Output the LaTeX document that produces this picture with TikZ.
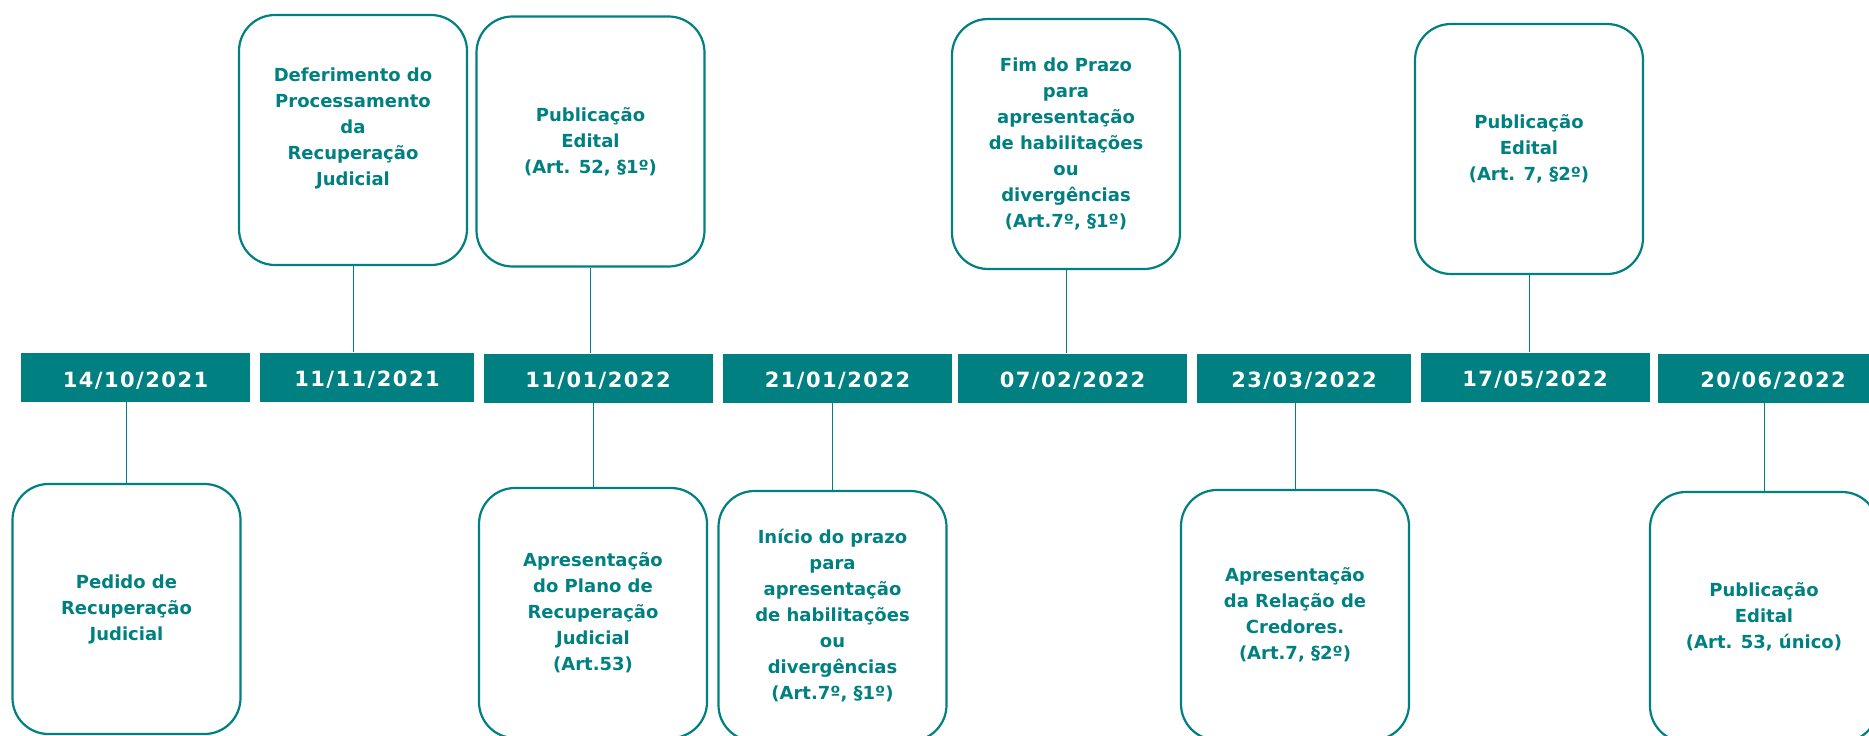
\documentclass[tikz,border=0pt]{standalone}
\usepackage{fontspec}
\setmainfont{DejaVu Sans}
\newfontfamily\datefont[LetterSpace=7]{DejaVu Sans}
\usepackage{xcolor}
\usepackage{tikz}
\definecolor{tealgreen}{HTML}{008080}
\tikzstyle{datebox} = [rectangle, minimum width=229pt, minimum height=49pt, inner sep=0pt, text height=19pt, text depth=0pt, text centered, fill=tealgreen, text=white, font=\datefont\bfseries\fontsize{21}{25}\selectfont]
\tikzstyle{event} = [rectangle, rounded corners=36pt, minimum width=228pt, minimum height=250pt, inner sep=0pt, align=center, draw=tealgreen, line width=2.2pt, text=tealgreen, font=\bfseries\fontsize{18}{26}\selectfont]
\tikzstyle{link} = [tealgreen, line width=1pt]

\begin{document}
\begin{tikzpicture}[x=1pt, y=-1pt]
\useasboundingbox (0,0) rectangle (1869,736);

% dates
\node (d1) [datebox] at (135.5,377.5) {14/10/2021};
\node (d2) [datebox, minimum width=214pt] at (367,377) {11/11/2021};
\node (d3) [datebox] at (598,378) {11/01/2022};
\node (d4) [datebox] at (837.5,378) {21/01/2022};
\node (d5) [datebox] at (1072.5,378) {07/02/2022};
\node (d6) [datebox, minimum width=214pt] at (1304,378) {23/03/2022};
\node (d7) [datebox] at (1535,377) {17/05/2022};
\node (d8) [datebox, minimum width=230pt] at (1773,378) {20/06/2022};

% events above
\node (up1) [event] at (353,140) {Deferimento do\\Processamento\\da\\Recuperação\\Judicial\\\mbox{}};
\node (up2) [event] at (590.5,141.5) {Publicação\\Edital\\(Art. 52, §1º)};
\node (up3) [event] at (1066,144) {Fim do Prazo\\para\\apresentação\\de habilitações\\ou\\divergências\\(Art.7º, §1º)};
\node (up4) [event] at (1529,149) {Publicação\\Edital\\(Art. 7, §2º)};

% events below
\node (lo1) [event] at (126.5,609) {Pedido de\\Recuperação\\Judicial};
\node (lo2) [event] at (593,613) {Apresentação\\do Plano de\\Recuperação\\Judicial\\(Art.53)};
\node (lo3) [event] at (832.5,616) {Início do prazo\\para\\apresentação\\de habilitações\\ou\\divergências\\(Art.7º, §1º)};
\node (lo4) [event] at (1295,615) {Apresentação\\da Relação de\\Credores.\\(Art.7, §2º)};
\node (lo5) [event] at (1764,617) {Publicação\\Edital\\(Art. 53, único)};

\draw [link] (up1.south) -- (up1.south |- d2.north);
\draw [link] (up2.south) -- (up2.south |- d3.north);
\draw [link] (up3.south) -- (up3.south |- d5.north);
\draw [link] (up4.south) -- (up4.south |- d7.north);
\draw [link] (lo1.north |- d1.south) -- (lo1.north);
\draw [link] (lo2.north |- d3.south) -- (lo2.north);
\draw [link] (lo3.north |- d4.south) -- (lo3.north);
\draw [link] (lo4.north |- d6.south) -- (lo4.north);
\draw [link] (lo5.north |- d8.south) -- (lo5.north);

\end{tikzpicture}
\end{document}
